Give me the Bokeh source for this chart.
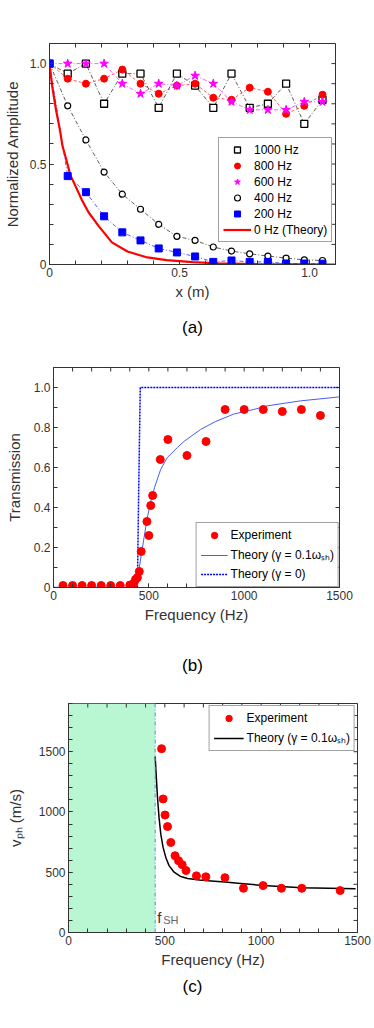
from bokeh.plotting import figure
from bokeh.models import FixedTicker, Range1d, Legend, LegendItem, BoxAnnotation, Span
from bokeh.embed import file_html
from bokeh.resources import INLINE
from bokeh.core.properties import value

FONT = "Liberation Sans"
TXT = "#333333"
FRAME = "#333333"
PAGE_W = 374

# ---------------- panel (a) data ----------------
pos_m = [0.0, 0.07, 0.14, 0.21, 0.28, 0.35, 0.42, 0.49, 0.56, 0.63, 0.70, 0.77, 0.84, 0.91, 0.98, 1.05]
amp_1000 = [1.0, 0.95, 1.0, 0.80, 0.95, 0.95, 0.78, 0.95, 0.89, 0.78, 0.95, 0.78, 0.80, 0.90, 0.70, 0.82]
amp_800 = [1.0, 0.925, 0.90, 0.925, 0.97, 0.90, 0.85, 0.89, 0.90, 0.83, 0.82, 0.88, 0.86, 0.75, 0.79, 0.845]
amp_600 = [1.0, 1.0, 1.0, 1.0, 0.90, 0.85, 0.90, 0.89, 0.94, 0.90, 0.81, 0.77, 0.77, 0.77, 0.81, 0.81]
amp_400 = [1.0, 0.79, 0.62, 0.46, 0.35, 0.275, 0.20, 0.14, 0.12, 0.087, 0.067, 0.053, 0.042, 0.032, 0.023, 0.02]
amp_200 = [1.0, 0.44, 0.36, 0.24, 0.16, 0.12, 0.08, 0.06, 0.04, 0.013, 0.02, 0.013, 0.013, 0.005, 0.005, 0.004]
theory0_x = [0.0, 0.01, 0.025, 0.04, 0.05, 0.065, 0.08, 0.10, 0.125, 0.15, 0.19, 0.24, 0.30, 0.37, 0.45, 0.55, 0.65, 0.80, 1.10]
theory0_y = [1.0, 0.89, 0.77, 0.67, 0.59, 0.52, 0.445, 0.39, 0.32, 0.26, 0.19, 0.11, 0.065, 0.037, 0.022, 0.012, 0.006, 0.002, 0.0]
a_xticks = [0, 0.5, 1.0]
a_yticks = [0, 0.5, 1.0]
a_tick_labels = {0: "0", 0.5: "0.5", 1: "1.0"}
a_minor = [0.0, 0.1, 0.2, 0.3, 0.4, 0.5, 0.6, 0.7, 0.8, 0.9, 1.0, 1.1]

# ---------------- panel (b) data ----------------
b_freq = [50, 100, 150, 200, 250, 300, 350, 400, 420, 430, 440, 450, 460, 490, 500, 510, 520,
          560, 600, 700, 800, 900, 1000, 1100, 1200, 1300, 1400]
b_trans = [0.01, 0.01, 0.01, 0.01, 0.01, 0.01, 0.01, 0.012, 0.02, 0.04, 0.05, 0.08, 0.18, 0.33, 0.26, 0.41, 0.46,
           0.64, 0.74, 0.66, 0.73, 0.89, 0.89, 0.89, 0.88, 0.89, 0.86]
b_th_x = [0, 380, 400, 420, 435, 450, 460, 475, 490, 510, 530, 562, 597, 650, 684, 771, 850, 945, 1050, 1120, 1294, 1500]
b_th_y = [0, 0, 0.003, 0.01, 0.04, 0.1, 0.16, 0.25, 0.34, 0.43, 0.5, 0.59, 0.65, 0.70, 0.73, 0.79, 0.83, 0.867, 0.89, 0.908, 0.933, 0.953]
b_th0_x = [0, 440, 447, 455, 1500]
b_th0_y = [0, 0, 0.5, 1.0, 1.0]
b_yticks = [0, 0.2, 0.4, 0.6, 0.8, 1.0]
b_tick_labels = {0: "0", 0.2: "0.2", 0.4: "0.4", 0.6: "0.6", 0.8: "0.8", 1: "1.0"}
b_yminor = [0, 0.1, 0.2, 0.3, 0.4, 0.5, 0.6, 0.7, 0.8, 0.9, 1.0, 1.1]
f_ticks = [0, 500, 1000, 1500]
f_minor = list(range(0, 1600, 100))

# ---------------- panel (c) data ----------------
c_freq = [483, 491, 501, 514, 531, 553, 571, 590, 610, 664, 713, 812, 908, 1010, 1105, 1211, 1410]
c_vph = [1525, 1108, 975, 879, 747, 637, 596, 563, 514, 470, 462, 455, 367, 389, 367, 367, 348]
c_th_x = [450, 455, 462, 470, 479, 491, 505, 522, 548, 583, 618, 680, 740, 812, 908, 1010, 1211, 1490]
c_th_y = [1460, 1310, 1118, 953, 816, 706, 623, 555, 500, 464, 448, 436, 428, 418, 405, 390, 372, 362]
f_sh = 450
c_yticks = [0, 500, 1000, 1500]
c_yminor = list(range(0, 2000, 100))

captions = ["(a)", "(b)", "(c)"]
CAPTION_X_PX = 192  # caption centre, page pixels


def make_fig(xr, yr, h, bl, br, bt, bb, xt, xm, yt, ym, xlabel, ylabel, lab_standoff_y):
    p = figure(width=PAGE_W, height=h, x_range=Range1d(*xr), y_range=Range1d(*yr),
               output_backend="svg", toolbar_location=None,
               min_border_left=bl, min_border_right=br, min_border_top=bt, min_border_bottom=bb)
    p.xgrid.visible = False
    p.ygrid.visible = False
    p.outline_line_color = FRAME
    p.outline_line_width = 1
    p.outline_line_alpha = 1
    p.background_fill_color = "white"
    p.border_fill_color = "white"
    p.xaxis.ticker = FixedTicker(ticks=xt, minor_ticks=xm)
    p.yaxis.ticker = FixedTicker(ticks=yt, minor_ticks=ym)
    for ax in (p.xaxis, p.yaxis):
        ax.major_tick_in = 4
        ax.major_tick_out = 0
        ax.minor_tick_in = 4
        ax.minor_tick_out = 0
        ax.axis_line_color = FRAME
        ax.major_tick_line_color = FRAME
        ax.minor_tick_line_color = FRAME
        ax.major_label_text_font = FONT
        ax.major_label_text_font_size = "12px"
        ax.major_label_text_color = TXT
        ax.axis_label_text_font = FONT
        ax.axis_label_text_font_size = "15px"
        ax.axis_label_text_font_style = "normal"
        ax.axis_label_text_color = TXT
    p.xaxis.major_label_standoff = 3
    p.xaxis.axis_label_standoff = 3
    p.yaxis.major_label_standoff = 3
    p.yaxis.axis_label_standoff = lab_standoff_y
    p.xaxis.axis_label = xlabel
    p.yaxis.axis_label = ylabel
    # inner ticks on top and right edges (MATLAB box style)
    fh = h - bt - bb
    fw = PAGE_W - bl - br
    py = (yr[1] - yr[0]) / fh
    px = (xr[1] - xr[0]) / fw
    tx = sorted(set(xm) | set(xt))
    ty = sorted(set(ym) | set(yt))
    p.segment(x0=tx, y0=[yr[1]] * len(tx), x1=tx, y1=[yr[1] - 4 * py] * len(tx), line_color=FRAME, line_width=1)
    p.segment(x0=[xr[1]] * len(ty), y0=ty, x1=[xr[1] - 4 * px] * len(ty), y1=ty, line_color=FRAME, line_width=1)
    return p


def caption_fig(text, h):
    c = figure(width=PAGE_W, height=h, x_range=Range1d(0, 1), y_range=Range1d(0, 1),
               output_backend="svg", toolbar_location=None, x_axis_type=None, y_axis_type=None,
               min_border=0, outline_line_color=None)
    c.xgrid.visible = False
    c.ygrid.visible = False
    c.text(x=[CAPTION_X_PX / PAGE_W], y=[0.5], text=[text], text_align="center", text_baseline="middle",
           text_font=value(FONT), text_font_size="17px", text_color="black")
    return c


def style_legend(lg, lh, gw, pad, spacing):
    lg.label_text_font = FONT
    lg.label_text_font_size = "12px"
    lg.label_text_color = "black"
    lg.label_height = lh
    lg.glyph_height = lh
    lg.glyph_width = gw
    lg.label_standoff = 3
    lg.padding = pad
    lg.spacing = spacing
    lg.border_line_color = "#444444"
    lg.border_line_width = 1
    lg.background_fill_color = "white"
    lg.background_fill_alpha = 1


# ---------------- (a) ----------------
pa = make_fig((0, 1.1), (0, 1.1), 307, 49, 39, 43, 43, a_xticks, a_minor, a_yticks, a_minor,
              "x (m)", "Normalized Amplitude", 6)
pa.xaxis.major_label_overrides = a_tick_labels
pa.yaxis.major_label_overrides = a_tick_labels

pa.line(pos_m, amp_1000, line_color="black", line_width=0.8, line_dash="4 2 1 2", line_alpha=0.8)
pa.line(pos_m, amp_800, line_color="red", line_width=0.8, line_dash="3 2", line_alpha=0.8)
pa.line(pos_m, amp_600, line_color="magenta", line_width=0.8, line_dash="4 2 1 2", line_alpha=0.8)
pa.line(pos_m, amp_400, line_color="black", line_width=0.8, line_dash="4 2 1 2", line_alpha=0.8)
pa.line(pos_m, amp_200, line_color="blue", line_width=0.8, line_dash="4 2 1 2", line_alpha=0.8)
r_th0 = pa.line(theory0_x, theory0_y, line_color="red", line_width=2.2)
r_1000 = pa.scatter(pos_m, amp_1000, marker="square", size=7, fill_color="white", line_color="black", line_width=1.3)
r_800 = pa.scatter(pos_m, amp_800, marker="circle", size=7, fill_color="red", line_color="red")
r_600 = pa.scatter(pos_m, amp_600, marker="star", size=9, fill_color="magenta", line_color="magenta")
r_400 = pa.scatter(pos_m, amp_400, marker="circle", size=6, fill_color="white", line_color="black", line_width=1.2)
r_200 = pa.scatter(pos_m, amp_200, marker="square", size=7, fill_color="blue", line_color="blue")

lga = Legend(items=[LegendItem(label="1000 Hz", renderers=[r_1000]),
                    LegendItem(label="800 Hz", renderers=[r_800]),
                    LegendItem(label="600 Hz", renderers=[r_600]),
                    LegendItem(label="400 Hz", renderers=[r_400]),
                    LegendItem(label="200 Hz", renderers=[r_200]),
                    LegendItem(label="0 Hz (Theory)", renderers=[r_th0])],
             location=(169, 22))
style_legend(lga, 15, 28, 4, 1)
pa.add_layout(lga)

# ---------------- (b) ----------------
pb = make_fig((0, 1500), (0, 1.1), 283, 53, 35, 20, 43, f_ticks, f_minor, b_yticks, b_yminor,
              "Frequency (Hz)", "Transmission", 8)
pb.yaxis.major_label_overrides = b_tick_labels
r_b0 = pb.line(b_th0_x, b_th0_y, line_color="blue", line_width=1.5, line_dash="2 1")
r_bt = pb.line(b_th_x, b_th_y, line_color="#4a5cf5", line_width=1)
r_be = pb.scatter(b_freq, b_trans, marker="circle", size=8, fill_color="red", line_color="red")
lgb = Legend(items=[LegendItem(label="Experiment", renderers=[r_be]),
                    LegendItem(label="Theory (γ = 0.1ωₛₕ)", renderers=[r_bt]),
                    LegendItem(label="Theory (γ = 0)", renderers=[r_b0])],
             location="bottom_right", margin=0)
style_legend(lgb, 16, 27, 4, 3)
pb.add_layout(lgb)

# ---------------- (c) ----------------
pc = make_fig((0, 1500), (0, 1900), 272, 68, 17, 3, 40, f_ticks, f_minor, c_yticks, c_yminor,
              "Frequency (Hz)", "vₚₕ (m/s)", 12)
pc.add_layout(BoxAnnotation(left=0, right=f_sh, fill_color="#b9f7d3", fill_alpha=1, line_alpha=0, level="underlay"))
pc.add_layout(Span(location=f_sh, dimension="height", line_color="#5a86ee", line_width=1, line_dash="4 2 1 2"))
r_ct = pc.line(c_th_x, c_th_y, line_color="black", line_width=1.5)
r_ce = pc.scatter(c_freq, c_vph, marker="circle", size=8, fill_color="red", line_color="red")
pc.text(x=[f_sh], y=[126], text=["f"], x_offset=2, text_font=value(FONT), text_font_size="15px",
        text_color=TXT, text_baseline="alphabetic")
pc.text(x=[f_sh], y=[100], text=["SH"], x_offset=8, text_font=value(FONT), text_font_size="11px",
        text_color="#666666", text_baseline="alphabetic")
lgc = Legend(items=[LegendItem(label="Experiment", renderers=[r_ce]),
                    LegendItem(label="Theory (γ = 0.1ωₛₕ)", renderers=[r_ct])],
             location="top_right", margin=2)
style_legend(lgc, 16, 30, 4, 3)
pc.add_layout(lgc)

cap_a = caption_fig(captions[0], 40)
cap_b = caption_fig(captions[1], 70)
cap_c = caption_fig(captions[2], 28)

open("out.html", "w").write(file_html([pa, cap_a, pb, cap_b, pc, cap_c], INLINE))
